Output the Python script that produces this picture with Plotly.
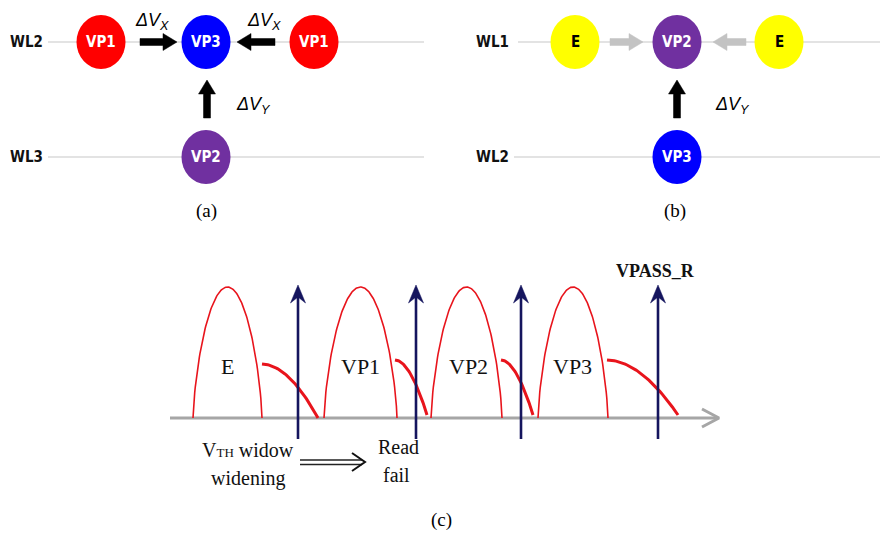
import numpy as np
import plotly.graph_objects as go

W, H = 882, 538

# ---------------- Panel (a) / (b) data ----------------
wl_labels = ["WL2", "WL3", "WL1", "WL2"]
wl_label_x = [26, 26, 492, 492]
wl_y = [42, 157, 42, 157]
wl_line_x0 = [48, 48, 518, 514]
wl_line_x1 = [424, 424, 880, 880]

node_labels = ["VP1", "VP3", "VP1", "VP2", "E", "VP2", "E", "VP3"]
node_x = [101, 206, 314, 206, 575, 677, 779, 677]
node_y = [42, 42, 42, 157, 42, 42, 42, 157]
node_fill = ["#ff0000", "#0000ff", "#ff0000", "#7030a0",
             "#ffff00", "#7030a0", "#ffff00", "#0000ff"]
node_text_color = ["white", "white", "white", "white",
                   "black", "white", "black", "white"]
node_rx, node_ry = 24.5, 27

cpl_x0 = [140, 275, 207, 610, 746, 677]
cpl_y0 = [42, 42, 118, 42, 42, 118]
cpl_x1 = [177, 237, 207, 643, 713, 677]
cpl_y1 = [42, 42, 80, 42, 42, 80]
cpl_col = ["black", "black", "black", "#c3c3c3", "#c3c3c3", "black"]

dv_sub = ["X", "X", "Y", "Y"]
dv_x = [152, 264, 253, 732]
dv_y = [21, 21, 105, 105]

panel_text = ["(a)", "(b)", "(c)"]
panel_x = [206, 675, 441]
panel_y = [211, 211, 520]

# ---------------- Panel (c) data ----------------
axis_y = 418
axis_x0, axis_x1 = 170, 719
state_names = ["E", "VP1", "VP2", "VP3"]
bump_left = [193, 324, 431, 538]
bump_right = [262, 397, 502, 608]
bump_peak_y = 287
state_label_x = [227, 360, 468, 572]
state_label_y = 366
tail_x0 = [262, 395, 501, 607]
tail_y0 = [364, 360, 360, 360]
tail_x1 = [318, 427, 533, 678]
tail_y1 = [418, 415, 415, 415]
read_x = [298, 416, 521, 658]
read_top, read_bottom = 285, 439

# ---------------- figure ----------------
fig = go.Figure()
shapes, annots = [], []
NARROW = "Liberation Sans Narrow, DejaVu Sans Condensed, Arial Narrow, Liberation Sans, Arial"
SERIF = "Liberation Serif, Times New Roman, serif"


def poly(xs, ys, color):
    fig.add_trace(go.Scatter(x=xs + [xs[0]], y=ys + [ys[0]], mode="lines",
                             fill="toself", fillcolor=color,
                             line=dict(color=color, width=0.5),
                             hoverinfo="skip", showlegend=False))


def block_arrow(x0, y0, x1, y1, color, sw=3.5, hw=8.5, hl=14):
    d = np.array([x1 - x0, y1 - y0], float)
    d /= np.linalg.norm(d)
    n = np.array([-d[1], d[0]])
    p0 = np.array([x0, y0], float)
    tip = np.array([x1, y1], float)
    pb = tip - d * hl
    pts = [p0 + n * sw, pb + n * sw, pb + n * hw, tip,
           pb - n * hw, pb - n * sw, p0 - n * sw]
    poly([p[0] for p in pts], [p[1] for p in pts], color)


def line(xs, ys, color, width):
    fig.add_trace(go.Scatter(x=xs, y=ys, mode="lines",
                             line=dict(color=color, width=width),
                             hoverinfo="skip", showlegend=False))


def text(x, y, s, family, size, color="#111111"):
    annots.append(dict(x=x, y=y, text=s, showarrow=False,
                       font=dict(family=family, size=size, color=color),
                       xanchor="center", yanchor="middle"))


for lab, lx, y, x0, x1 in zip(wl_labels, wl_label_x, wl_y, wl_line_x0, wl_line_x1):
    line([x0, x1], [y, y], "#c8c8c8", 1.2)
    text(lx, y, "<b>%s</b>" % lab, NARROW, 15)

for lab, x, y, fc, tc in zip(node_labels, node_x, node_y, node_fill, node_text_color):
    shapes.append(dict(type="circle", xref="x", yref="y",
                       x0=x - node_rx, x1=x + node_rx, y0=y - node_ry, y1=y + node_ry,
                       fillcolor=fc, line=dict(width=0), layer="above"))
    text(x, y, "<b>%s</b>" % lab, NARROW, 15, tc)

for x0, y0, x1, y1, c in zip(cpl_x0, cpl_y0, cpl_x1, cpl_y1, cpl_col):
    block_arrow(x0, y0, x1, y1, c)

for s, x, y in zip(dv_sub, dv_x, dv_y):
    text(x, y, "<i>ΔV<sub>%s</sub></i>" % s, "Liberation Sans, Arial", 18, "black")

for s, x, y in zip(panel_text, panel_x, panel_y):
    text(x, y, s, SERIF, 19, "black")

# ---- panel (c) ----
line([axis_x0, axis_x1 - 1], [axis_y, axis_y], "#a6a6a6", 3)
line([axis_x1 - 17, axis_x1, axis_x1 - 17], [axis_y - 9, axis_y, axis_y + 9], "#a6a6a6", 3)

u = np.linspace(-1, 1, 121)
for L, R in zip(bump_left, bump_right):
    cx, hw = (L + R) / 2, (R - L) / 2
    xs = cx + u * hw
    ys = axis_y - (axis_y - bump_peak_y) * (1 - u ** 2) ** 0.7
    line(list(xs), list(ys), "#e8141c", 1.6)

t = np.linspace(0, 1, 40)
for x0, y0, x1, y1 in zip(tail_x0, tail_y0, tail_x1, tail_y1):
    xs = x0 + (x1 - x0) * t
    ys = y0 + (y1 - y0) * t ** 1.9
    line(list(xs), list(ys), "#e8141c", 3)

navy = "#15155e"
for x in read_x:
    line([x, x], [read_bottom, read_top + 12], navy, 2.6)
    poly([x, x - 7.5, x, x + 7.5], [read_top, read_top + 18, read_top + 12, read_top + 18], navy)

for n, x in zip(state_names, state_label_x):
    text(x, state_label_y, n, SERIF, 22)

text(655, 271, "<b>VPASS_R</b>", SERIF, 18)
text(248, 450, "V<span style='font-size:13px'>TH</span> widow", SERIF, 20)
text(248, 478, "widening", SERIF, 20)
text(398, 447, "Read", SERIF, 20)
text(396, 475, "fail", SERIF, 20)

line([300, 362], [460, 460], "#222222", 1.3)
line([300, 362], [464.5, 464.5], "#222222", 1.3)
line([352, 365, 352], [453, 462, 471], "#111111", 2)

fig.update_layout(
    width=W, height=H,
    margin=dict(l=0, r=0, t=0, b=0),
    paper_bgcolor="white", plot_bgcolor="white",
    xaxis=dict(range=[0, W], visible=False, fixedrange=True),
    yaxis=dict(range=[H, 0], visible=False, fixedrange=True),
    shapes=shapes, annotations=annots, showlegend=False,
)

fig.write_html("out.html", config={"displayModeBar": False},
               post_script="document.body.style.margin='0';document.body.style.overflow='hidden';")
